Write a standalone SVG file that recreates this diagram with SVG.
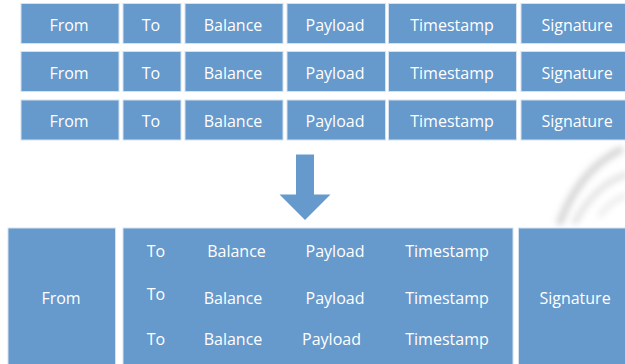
<svg xmlns="http://www.w3.org/2000/svg" width="625" height="364" viewBox="0 0 625 364">
<defs>
<style>
.box{fill:#6699CC;stroke:#D3E1F0;stroke-width:1}
.t{font-family:"Open Sans","Segoe UI","Noto Sans",sans-serif;font-size:16px;fill:#FFFFFF;text-anchor:middle}
.arrow{fill:#6699CC}
</style>
<filter id="blur" x="-50%" y="-50%" width="200%" height="200%"><feGaussianBlur stdDeviation="3"/></filter>
</defs>
<rect width="625" height="364" fill="#FFFFFF"/>
<g id="smudge" filter="url(#blur)" fill="none" stroke-linecap="round">
<path d="M560 222 Q580 170 620 150" stroke="#C4C4C4" stroke-width="7" opacity="0.7"/>
<path d="M575 222 Q595 185 625 175" stroke="#CFCFCF" stroke-width="6" opacity="0.6"/>
<path d="M600 215 Q612 200 625 196" stroke="#D8D8D8" stroke-width="5" opacity="0.5"/>
</g>
<g id="row1">
<g id="r1-from"><rect class="box" x="21" y="3.5" width="98" height="40"/><text class="t" x="69" y="30.5">From</text></g>
<g id="r1-to"><rect class="box" x="123" y="3.5" width="58" height="40"/><text class="t" x="151" y="30.5">To</text></g>
<g id="r1-balance"><rect class="box" x="185" y="3.5" width="98" height="40"/><text class="t" x="233" y="30.5">Balance</text></g>
<g id="r1-payload"><rect class="box" x="287" y="3.5" width="98.5" height="40"/><text class="t" x="335" y="30.5">Payload</text></g>
<g id="r1-timestamp"><rect class="box" x="388.5" y="3.5" width="128" height="40"/><text class="t" x="452" y="30.5">Timestamp</text></g>
<g id="r1-signature"><rect class="box" x="521" y="3.5" width="112" height="40"/><text class="t" x="577" y="30.5">Signature</text></g>
</g>
<g id="row2">
<g id="r2-from"><rect class="box" x="21" y="51.5" width="98" height="40"/><text class="t" x="69" y="78.5">From</text></g>
<g id="r2-to"><rect class="box" x="123" y="51.5" width="58" height="40"/><text class="t" x="151" y="78.5">To</text></g>
<g id="r2-balance"><rect class="box" x="185" y="51.5" width="98" height="40"/><text class="t" x="233" y="78.5">Balance</text></g>
<g id="r2-payload"><rect class="box" x="287" y="51.5" width="98.5" height="40"/><text class="t" x="335" y="78.5">Payload</text></g>
<g id="r2-timestamp"><rect class="box" x="388.5" y="51.5" width="128" height="40"/><text class="t" x="452" y="78.5">Timestamp</text></g>
<g id="r2-signature"><rect class="box" x="521" y="51.5" width="112" height="40"/><text class="t" x="577" y="78.5">Signature</text></g>
</g>
<g id="row3">
<g id="r3-from"><rect class="box" x="21" y="100" width="98" height="40"/><text class="t" x="69" y="127">From</text></g>
<g id="r3-to"><rect class="box" x="123" y="100" width="58" height="40"/><text class="t" x="151" y="127">To</text></g>
<g id="r3-balance"><rect class="box" x="185" y="100" width="98" height="40"/><text class="t" x="233" y="127">Balance</text></g>
<g id="r3-payload"><rect class="box" x="287" y="100" width="98.5" height="40"/><text class="t" x="335" y="127">Payload</text></g>
<g id="r3-timestamp"><rect class="box" x="388.5" y="100" width="128" height="40"/><text class="t" x="452" y="127">Timestamp</text></g>
<g id="r3-signature"><rect class="box" x="521" y="100" width="112" height="40"/><text class="t" x="577" y="127">Signature</text></g>
</g>
<g id="connectors">
<path class="arrow" d="M296 154.5 L314 154.5 L314 194.5 L330.5 194.5 L305 220 L279.5 194.5 L296 194.5 Z"/>
</g>
<g id="b-from"><rect class="box" x="8" y="228" width="107.5" height="140"/><text class="t" x="61" y="303.5">From</text></g>
<g id="b-middle"><rect class="box" x="123" y="228" width="390" height="140"/>
<text class="t" x="156" y="256.5">To</text>
<text class="t" x="236.5" y="256.5">Balance</text>
<text class="t" x="335" y="256.5">Payload</text>
<text class="t" x="447" y="256.5">Timestamp</text>
<text class="t" x="156" y="300">To</text>
<text class="t" x="233" y="303.5">Balance</text>
<text class="t" x="335" y="303.5">Payload</text>
<text class="t" x="447" y="303.5">Timestamp</text>
<text class="t" x="156" y="344.5">To</text>
<text class="t" x="233" y="344.5">Balance</text>
<text class="t" x="331.5" y="344.5">Payload</text>
<text class="t" x="447" y="344.5">Timestamp</text>
</g>
<g id="b-signature"><rect class="box" x="518.5" y="228" width="115" height="140"/><text class="t" x="575" y="303.5">Signature</text></g>
</svg>
